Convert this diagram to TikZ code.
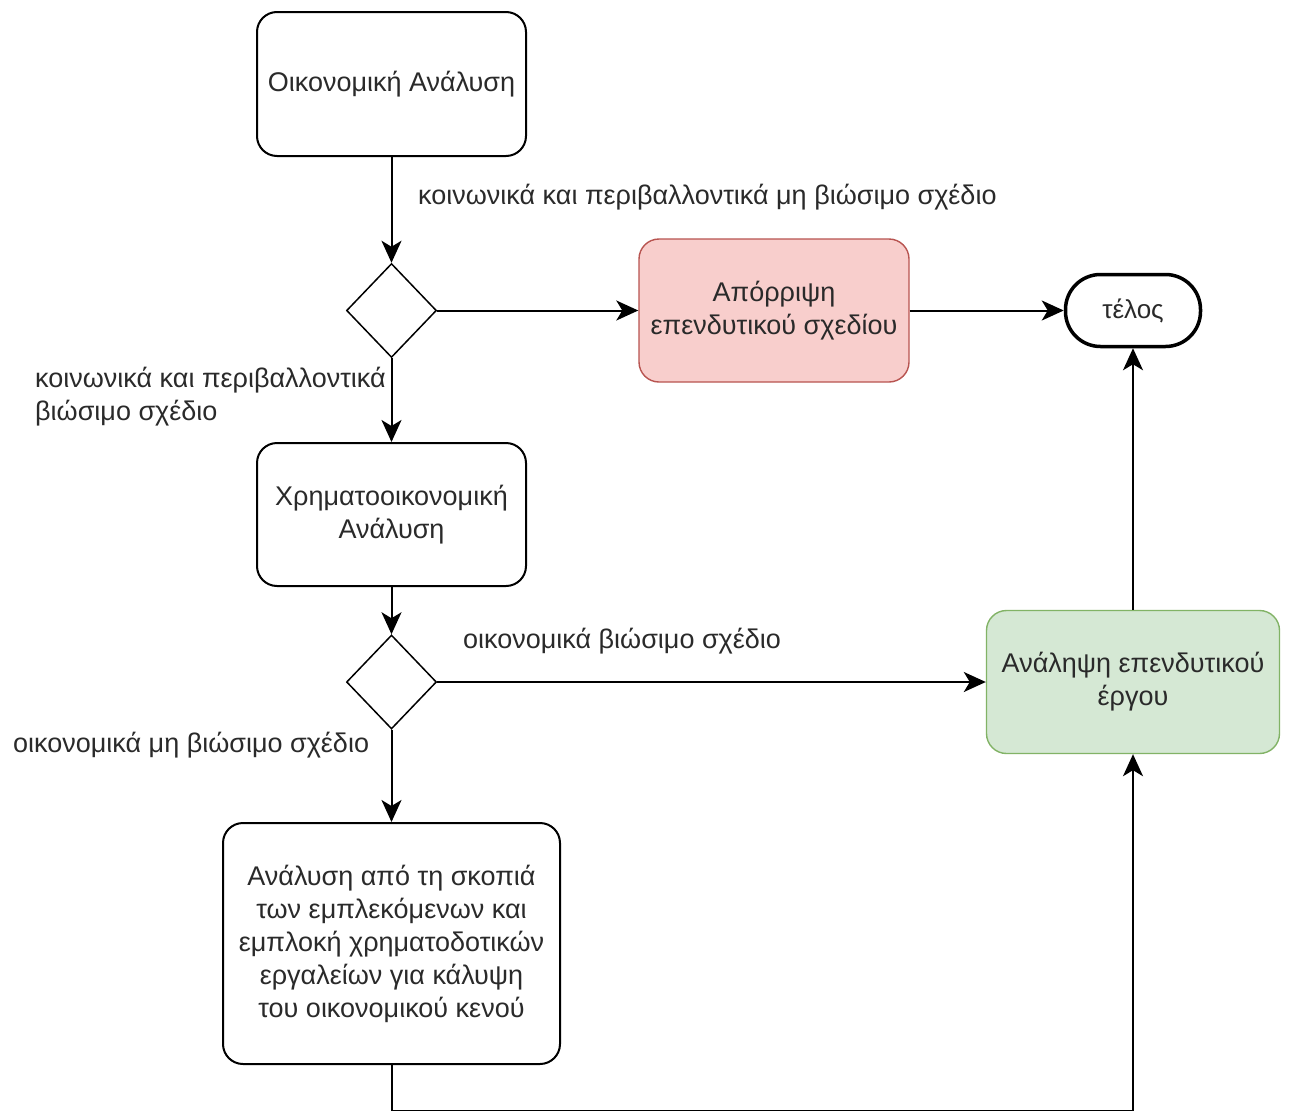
\documentclass[tikz,border=0pt]{standalone}
\usepackage{fontspec}
\setmainfont{Liberation Sans}
\usetikzlibrary{shapes.geometric,arrows.meta}
\definecolor{txt}{HTML}{2A2A2A}
\definecolor{redfill}{HTML}{F8CECC}
\definecolor{redline}{HTML}{B85450}
\definecolor{greenfill}{HTML}{D5E8D4}
\definecolor{greenline}{HTML}{82B366}
\tikzset{
  box/.style={draw=black, line width=2pt, rounded corners=20pt, align=center,
    inner sep=0pt, text=txt, font=\fontsize{27}{33}\selectfont},
  decision/.style={draw=black, line width=1.5pt, diamond, inner sep=0pt,
    minimum width=90pt, minimum height=94pt, aspect=0.96},
  terminal/.style={draw=black, line width=3.5pt, rounded corners=35pt, align=center,
    inner sep=0pt, text=txt, font=\fontsize{26}{33}\selectfont},
  lbl/.style={text=txt, inner sep=0pt, align=left, font=\fontsize{27}{33}\selectfont},
  flow/.style={draw=black, line width=2pt, -{Stealth[length=22pt,width=20pt,inset=6pt]}}
}
\begin{document}
\begin{tikzpicture}[x=1pt,y=-1pt]
\useasboundingbox[fill=white] (0,0) rectangle (1291,1111);

% process boxes
\node[box, minimum width=269pt, minimum height=144pt] (econ) at (391.5,84) {Οικονομική Ανάλυση};
\node[decision] (d1) at (391.5,310.5) {};
\node[box, fill=redfill, draw=redline, line width=1.4pt, minimum width=270pt, minimum height=143pt] (reject) at (774,310.5) {Απόρριψη\\επενδυτικού σχεδίου};
\node[terminal, minimum width=135pt, minimum height=72pt] (end) at (1133,310.5) {τέλος};
\node[box, minimum width=269pt, minimum height=143pt] (fin) at (391.5,514.5) {Χρηματοοικονομική\\Ανάλυση};
\node[decision] (d2) at (391.5,682) {};
\node[box, fill=greenfill, draw=greenline, line width=1.4pt, minimum width=293pt, minimum height=143pt] (accept) at (1133,682) {Ανάληψη επενδυτικού\\έργου};
\node[box, minimum width=337pt, minimum height=241pt] (stake) at (391.5,943.5) {Ανάλυση από τη σκοπιά\\των εμπλεκόμενων και\\εμπλοκή χρηματοδοτικών\\εργαλείων για κάλυψη\\του οικονομικού κενού};

% edge labels
\node[lbl, anchor=west] (l1) at (418,197) {κοινωνικά και περιβαλλοντικά μη βιώσιμο σχέδιο};
\node[lbl, anchor=west] (l2) at (35,397) {κοινωνικά και περιβαλλοντικά\\βιώσιμο σχέδιο};
\node[lbl, anchor=west] (l3) at (463,641) {οικονομικά βιώσιμο σχέδιο};
\node[lbl, anchor=west] (l4) at (13,745) {οικονομικά μη βιώσιμο σχέδιο};

% connectors
\draw[flow] (econ) -- (d1);
\draw[flow] (d1) -- (reject);
\draw[flow] (reject) -- (end);
\draw[flow] (d1) -- (fin);
\draw[flow] (fin) -- (d2);
\draw[flow] (d2) -- (accept);
\draw[flow] (d2) -- (stake);
\draw[flow] (accept) -- (end);
\coordinate (low) at (391.5,1111.4);
\begin{scope}
  \clip (0,0) rectangle (1291,1111);
  \draw[flow] (stake.south) -- (low) -| (accept.south);
\end{scope}
\end{tikzpicture}
\end{document}
